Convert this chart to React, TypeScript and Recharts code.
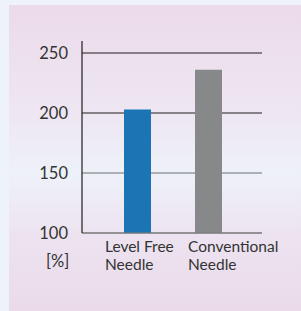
import React from 'react';
import { BarChart, Bar, XAxis, YAxis, CartesianGrid, Cell } from 'recharts';

const categories = ['Level Free\nNeedle', 'Conventional\nNeedle'];
const values = [203, 236];
const yTicks = [100, 150, 200, 250];
const unitLabel = '[%]';

const barColors = ['#1b75b4', '#87888a'];
const labelOffsets = [-32.5, -20.5];

const data = categories.map((name, i) => ({ name, value: values[i] }));

const FONT = 'Lato, "Liberation Sans", sans-serif';
const TEXT = '#333333';

const XTick = (props: any) => {
  const { x, y, payload, index } = props;
  const lines = String(payload.value).split('\n');
  return (
    <text x={x + labelOffsets[index]} y={y} fill={TEXT} fontSize={15.5} fontFamily={FONT} textAnchor="start">
      {lines.map((l, i) => (
        <tspan key={i} x={x + labelOffsets[index]} dy={i === 0 ? 19 : 17.5}>{l}</tspan>
      ))}
    </text>
  );
};

const GridLine = (props: any) => {
  const { x1, x2, y1, y2 } = props;
  const top = typeof props.y === 'number' ? props.y : 41;
  const h = typeof props.height === 'number' ? props.height : 192;
  const upper = y1 < top + h / 2;
  return <line x1={x1} x2={x2} y1={y1} y2={y2} stroke={upper ? '#1e1e1e' : '#6e6e6e'} strokeWidth={1.2} />;
};

export default function App() {
  return (
    <div style={{ position: 'fixed', left: 0, top: 0, width: 301, height: 311, background: '#eef3fb', overflow: 'hidden' }}>
      <div
        style={{
          position: 'absolute', left: 9, top: 5, width: 292, height: 306,
          background: 'linear-gradient(to bottom, #ecdbea 0%, #eee6f2 35%, #eef1f9 55%, #ede3f0 75%, #ebdbea 100%)',
        }}
      />
      <div style={{ position: 'absolute', left: 0, top: 0 }}>
        <BarChart width={301} height={311} data={data} margin={{ top: 41, right: 39, left: 22, bottom: 38 }}>
          <CartesianGrid vertical={false} horizontal={GridLine} horizontalValues={yTicks} />
          <XAxis
            dataKey="name"
            interval={0}
            height={40}
            tickLine={false}
            tickSize={0}
            tickMargin={0}
            axisLine={{ stroke: '#7a7a7a', strokeWidth: 1.2 }}
            padding={{ left: 20, right: 18 }}
            tick={<XTick />}
          />
          <YAxis
            type="number"
            domain={[100, 260]}
            ticks={yTicks}
            allowDataOverflow
            width={60}
            tickLine={false}
            tickSize={0}
            tickMargin={14}
            axisLine={{ stroke: '#1e1e1e', strokeWidth: 1.2 }}
            tick={{ fill: TEXT, fontSize: 16.5, fontFamily: FONT }}
          />
          <Bar dataKey="value" barSize={27} isAnimationActive={false}>
            {data.map((d, i) => (
              <Cell key={i} fill={barColors[i]} />
            ))}
          </Bar>
        </BarChart>
      </div>
      <div style={{ position: 'absolute', left: 46, top: 252, fontSize: 16.5, fontFamily: FONT, color: TEXT, lineHeight: '18px' }}>
        {unitLabel}
      </div>
    </div>
  );
}
